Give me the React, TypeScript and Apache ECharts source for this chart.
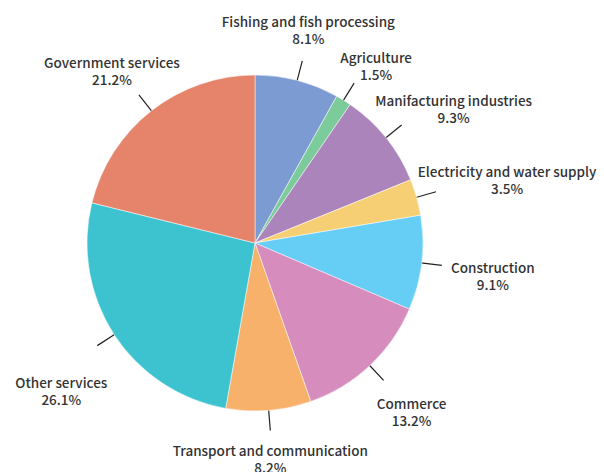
import { useEffect, useRef } from 'react';
import * as echarts from 'echarts';

const categories = [
  'Fishing and fish processing',
  'Agriculture',
  'Manifacturing industries',
  'Electricity and water supply',
  'Construction',
  'Commerce',
  'Transport and communication',
  'Other services',
  'Government services',
];
const shares = [8.1, 1.5, 9.3, 3.5, 9.1, 13.2, 8.2, 26.1, 21.2];
const colors = ['#7b9bd2', '#7ccb9b', '#ab84bc', '#f6cf75', '#66cdf5', '#d68dbe', '#f8b16b', '#3dc2cf', '#e5846b'];

// label centre offset from the end of each leader line
const labelNudges: [number, number][] = [
  [6, -31], [22, -18], [52, -17], [71, -12], [51, 10], [28, 31], [0, 28], [-36, 45], [-27, -24],
];

const CENTER: [number, number] = [255, 243];
const RADIUS = 168;

const App = () => {
  const chartRef = useRef<HTMLDivElement>(null);

  useEffect(() => {
    document.body.style.margin = '0';
    if (!chartRef.current) return;
    const chart = echarts.init(chartRef.current, null as any, { renderer: 'svg' });

    chart.setOption({
      animation: false,
      textStyle: { fontFamily: 'Noto Sans CJK KR' },
      series: [
        {
          type: 'pie',
          center: CENTER,
          radius: RADIUS,
          startAngle: 90,
          clockwise: true,
          data: categories.map((name, i) => ({
            name,
            value: shares[i],
            itemStyle: { color: colors[i] },
          })),
          itemStyle: { borderColor: '#ffffff', borderWidth: 0.5 },
          label: {
            show: true,
            position: 'outside',
            formatter: '{b}\n{c}%',
            color: '#333333',
            fontFamily: 'Noto Sans CJK KR',
            fontSize: 13.5,
            fontWeight: 500,
            lineHeight: 17,
            align: 'center',
            overflow: 'none',
          },
          labelLine: {
            show: true,
            length: 20,
            length2: 0,
            lineStyle: { color: '#222222', width: 1.2 },
          },
          labelLayout: (params: any) => {
            const pts = params.labelLinePoints;
            if (!pts) return {};
            const dx = pts[0][0] - CENTER[0];
            const dy = pts[0][1] - CENTER[1];
            const len = Math.hypot(dx, dy) || 1;
            const ux = dx / len;
            const uy = dy / len;
            const start = [CENTER[0] + ux * RADIUS * 0.87, CENTER[1] + uy * RADIUS * 0.87];
            const end = [CENTER[0] + ux * RADIUS * 1.12, CENTER[1] + uy * RADIUS * 1.12];
            const mid = [(start[0] + end[0]) / 2, (start[1] + end[1]) / 2];
            const nudge = labelNudges[params.dataIndex];
            return {
              x: end[0] + nudge[0],
              y: end[1] + nudge[1],
              align: 'center',
              verticalAlign: 'middle',
              labelLinePoints: [start, mid, end],
            };
          },
          emphasis: { disabled: true },
        },
      ],
    });

    return () => {
      chart.dispose();
    };
  }, []);

  return <div ref={chartRef} style={{ width: 604, height: 472 }} />;
};

export default App;
